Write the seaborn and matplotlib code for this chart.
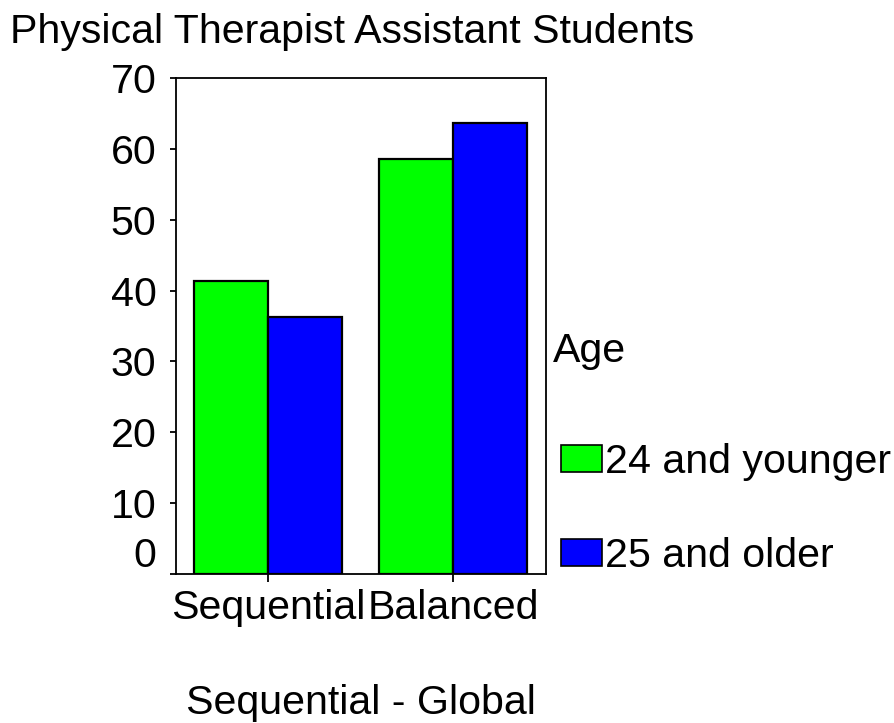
import numpy as np
import pandas as pd
import matplotlib
matplotlib.use("Agg")
import matplotlib.pyplot as plt
import matplotlib.transforms as mtransforms
import seaborn as sns

categories = ["Sequential", "Balanced"]
young = [41.4, 58.6]
older = [36.3, 63.7]
groups = ["24 and younger", "25 and older"]

df = pd.DataFrame({
    "Sequential - Global": categories * 2,
    "Percent": young + older,
    "Age": [groups[0]] * 2 + [groups[1]] * 2,
})

sns.set_style("ticks")
plt.rcParams['font.family'] = ['Liberation Sans', 'DejaVu Sans']
plt.rcParams.update({"text.color": "black", "axes.labelcolor": "black",
                     "xtick.color": "black", "ytick.color": "black"})

fs = 29.6
fig = plt.figure(figsize=(8.95, 7.23), dpi=100)
ax = fig.add_axes([0.1966, 0.2061, 0.4134, 0.6860])

sns.barplot(data=df, x="Sequential - Global", y="Percent", hue="Age",
            palette=["#00ff00", "#0000ff"], edgecolor="black", linewidth=1.6,
            saturation=1, width=0.8, ax=ax)

ax.set_ylim(0, 70)
ax.set_xlim(-0.5, 1.5)
ax.set_yticks(np.arange(0, 71, 10))
ax.tick_params(axis="both", labelsize=fs, width=1.3, direction="out")
ax.tick_params(axis="y", length=4, pad=10)
ax.tick_params(axis="x", length=6, pad=5)
for s in ax.spines.values():
    s.set_linewidth(1.3)
    s.set_color("black")
ax.set_ylabel("")
ax.set_xlabel("Sequential - Global", fontsize=fs, labelpad=41)

# the "0" label sits a bit above its tick
lab0 = ax.get_yticklabels()[0]
lab0.set_transform(lab0.get_transform() +
                   mtransforms.ScaledTranslation(0, 22 / 100, fig.dpi_scale_trans))

fig.text(10 / 895, 1 - 43 / 723, "Physical Therapist Assistant Students",
         fontsize=fs, ha="left", va="baseline")
fig.text(553 / 895, 1 - 362 / 723, "Age", fontsize=fs, ha="left", va="baseline")

leg = ax.legend(loc="center left", bbox_to_anchor=(561 / 895, 1 - 509 / 723),
                bbox_transform=fig.transFigure, frameon=False, fontsize=fs,
                handlelength=1.0, handleheight=0.64, handletextpad=0.08,
                labelspacing=1.36, borderaxespad=0, borderpad=0)
for h in leg.legend_handles:
    h.set_edgecolor("black")
    h.set_linewidth(1.2)

fig.savefig("out.png", dpi=100)
